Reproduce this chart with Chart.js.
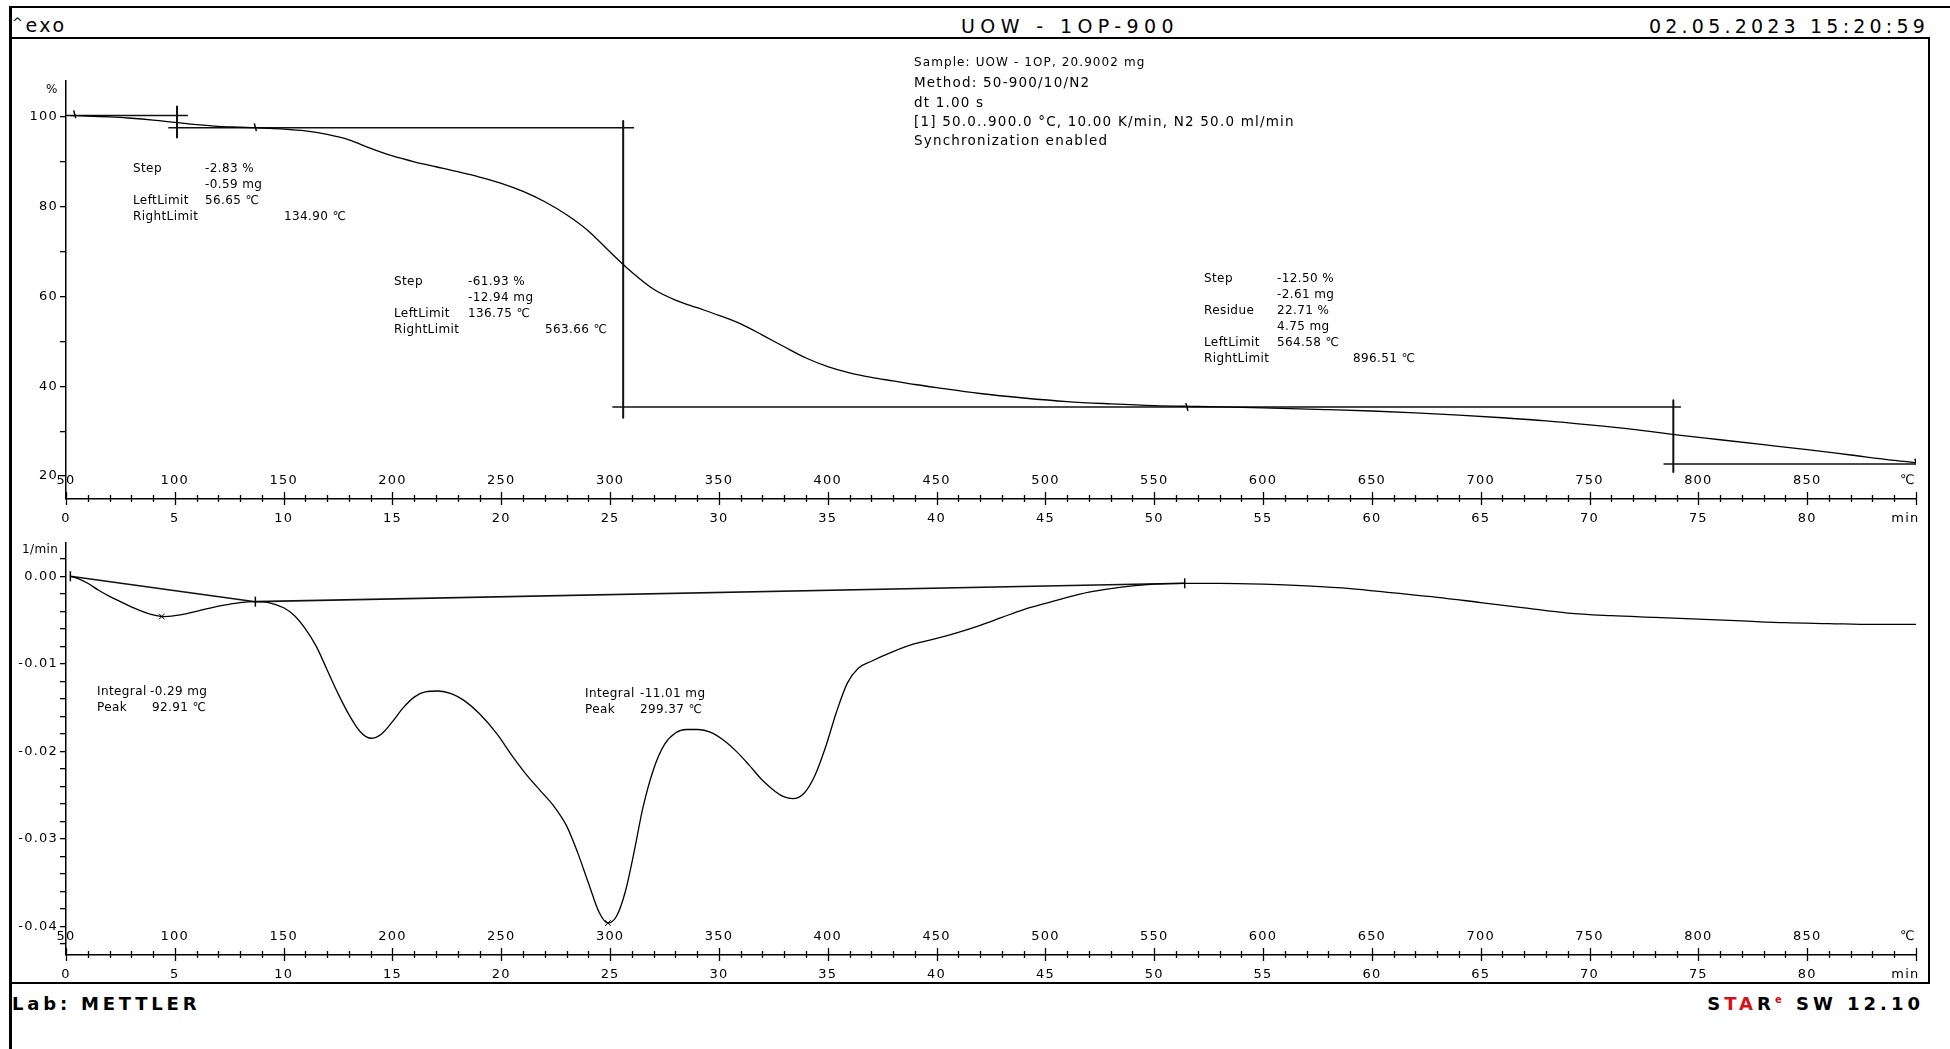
<!DOCTYPE html>
<html>
<head>
<meta charset="utf-8">
<script src="https://cdn.jsdelivr.net/npm/chart.js@4.4.0/dist/chart.umd.min.js"></script>
<style>
  body { margin: 0; width: 1950px; height: 1049px; overflow: hidden; position: relative; background: #fff;
         font-family: 'DejaVu Sans', sans-serif; color: #000; }
  .t { position: absolute; white-space: pre; transform: translateY(-50%); line-height: 1; }
  .ann { font-size: 12px; letter-spacing: 0.4px; }
  .info { font-size: 13.5px; letter-spacing: 1.2px; }
  .head { font-size: 19px; letter-spacing: 5.4px; }
  canvas { position: absolute; left: 0; }
  #frame { position: absolute; left: 9px; top: 37px; width: 1916px; height: 943px; border: 2px solid #000; border-left-width: 3px; }
  #outerTop { position: absolute; left: 9px; top: 6px; width: 1941px; height: 2px; background: #000; }
  #outerLeft { position: absolute; left: 9px; top: 6px; width: 3px; height: 1043px; background: #000; }
</style>
</head>
<body>
<div id="outerTop"></div>
<div id="outerLeft"></div>
<div id="frame"></div>
<canvas id="tga" width="1950" height="500" style="top:37px"></canvas>
<canvas id="dtg" width="1950" height="455" style="top:532px"></canvas>
<script>
// TGA: mass (%) against time (min)
const tgaTime = [0.2, 1, 2, 3, 4, 5, 6, 7, 8, 9, 10, 11, 12, 13, 14, 15, 16, 17, 18, 19, 20,
  21, 22, 23, 24, 25, 26, 27, 28, 29, 30, 31, 32, 33, 34, 35, 36, 37, 38, 39, 40,
  42, 44, 46, 48, 50, 52, 55, 58, 60, 62, 64, 66, 68, 70, 72, 74, 76, 78, 80, 82, 84, 85];
const tgaMass = [100.3, 100.2, 100.0, 99.7, 99.3, 98.8, 98.3, 97.9, 97.7, 97.5, 97.3,
  96.9, 96.1, 94.9, 93.0, 91.3, 90.0, 88.9, 87.8, 86.6, 85.2,
  83.4, 81.1, 78.2, 74.6, 69.9, 65.4, 61.6, 59.2, 57.5, 55.8,
  53.9, 51.4, 48.8, 46.3, 44.4, 43.0, 42.0, 41.2, 40.4, 39.7,
  38.4, 37.4, 36.6, 36.1, 35.7, 35.5, 35.2, 34.8, 34.5, 34.1, 33.6, 33.0, 32.3, 31.4,
  30.4, 29.2, 28.1, 27.0, 25.9, 24.7, 23.5, 23.0];

// DTG: 1/min against time (min)
const dtgTime = [0.2, 0.5, 1, 1.5, 2, 2.5, 3, 3.5, 4, 4.5, 5, 5.5, 6, 6.5, 7, 7.5, 8, 8.7, 9.3,
  10, 10.5, 11, 11.5, 12, 12.5, 13, 13.5, 14, 14.5, 15, 15.5, 16, 16.5, 17.1, 17.7, 18.3,
  19, 19.8, 20.5, 21.2, 21.8, 22.4, 23, 23.5, 24, 24.5, 24.9, 25.3, 25.7, 26.1, 26.5, 27,
  27.5, 28, 28.5, 29.05, 29.6, 30.2, 30.8, 31.4, 32, 32.6, 33, 33.4, 33.9, 34.4, 34.9, 35.4,
  35.9, 36.4, 37, 38, 39, 40, 41, 42, 43, 44, 45, 46, 47, 48, 49, 50, 51.4, 53, 55, 57,
  59, 61, 63, 65, 67, 69, 71, 73, 75, 77, 79, 81, 83, 85];
const dtgRate = [0.0000, -0.0002, -0.0008, -0.0016, -0.0023, -0.0029, -0.0035, -0.0040,
  -0.0044, -0.0046, -0.0045, -0.0043, -0.0040, -0.0037, -0.0034, -0.0032, -0.0030, -0.0029,
  -0.0030, -0.0036, -0.0045, -0.0060, -0.0080, -0.0107, -0.0134, -0.0158, -0.0177, -0.0185,
  -0.0180, -0.0166, -0.0150, -0.0138, -0.0132, -0.0131, -0.0134, -0.0142, -0.0157, -0.0180,
  -0.0205, -0.0228, -0.0245, -0.0262, -0.0285, -0.0315, -0.0350, -0.0384, -0.0396, -0.0388,
  -0.0360, -0.0315, -0.0265, -0.0220, -0.0192, -0.0179, -0.0175, -0.0175, -0.0178, -0.0187,
  -0.0200, -0.0216, -0.0233, -0.0246, -0.0252, -0.0254, -0.0248, -0.0228, -0.0195, -0.0155,
  -0.0122, -0.0105, -0.0097, -0.0086, -0.0077, -0.0071, -0.0064, -0.0056, -0.0047, -0.0038,
  -0.0031, -0.0024, -0.0018, -0.0014, -0.0011, -0.0009, -0.0008, -0.0008, -0.0009, -0.0011,
  -0.0014, -0.0019, -0.0024, -0.0030, -0.0036, -0.0042, -0.0045, -0.0047, -0.0049, -0.0051,
  -0.0053, -0.0054, -0.0055, -0.0055];

// step evaluation lines (top plot)
const stepLevels = [100.3, 97.6, 35.4, 22.7];
const stepLevelFrom = [0.0, 4.7, 25.1, 73.4];
const stepLevelTo = [5.6, 26.1, 74.2, 85];
const stepTimes = [5.1, 25.6, 73.85];
const stepTop = [102.3, 99.1, 36.9];
const stepBottom = [95.4, 33.0, 20.9];
const tgaLimitTime = [0.4, 8.7, 51.5, 85];
const tgaLimitMass = [100.6, 97.7, 35.4, 23.0];

// integration baselines, peaks and limits (bottom plot)
const baseTime = [0.2, 8.7, 51.4];
const baseRate = [0.0000, -0.0029, -0.0008];
const peakTime = [4.4, 24.9];
const peakRate = [-0.0046, -0.0396];

// axes
const timeTickLabels = ['0', '5', '10', '15', '20', '25', '30', '35', '40', '45', '50', '55', '60', '65', '70', '75', '80', 'min    '];
const tempTickLabels = ['50', '100', '150', '200', '250', '300', '350', '400', '450', '500', '550', '600', '650', '700', '750', '800', '850', '℃   '];
const tgaTickValues = [20, 30, 40, 50, 60, 70, 80, 90, 100];
const tgaTickLabels = ['20', '', '40', '', '60', '', '80', '', '100'];
const dtgTickValues = [0.002, 0, -0.002, -0.004, -0.006, -0.008, -0.01, -0.012, -0.014, -0.016, -0.018, -0.02,
  -0.022, -0.024, -0.026, -0.028, -0.03, -0.032, -0.034, -0.036, -0.038, -0.04, -0.042];
const dtgTickLabels = ['', '0.00', '', '', '', '', '-0.01', '', '', '', '', '-0.02',
  '', '', '', '', '-0.03', '', '', '', '', '-0.04', ''];

const FONT = "'DejaVu Sans', sans-serif";
const pts = (xs, ys) => xs.map((x, i) => ({ x: x, y: ys[i] }));

function seg(x1, y1, x2, y2) {
  return {
    data: [{ x: x1, y: y1 }, { x: x2, y: y2 }],
    borderColor: '#111', borderWidth: 1.4, pointRadius: 0, tension: 0
  };
}

// tick marks that cross the time axis, longer every 5 min
const crossTicks = {
  id: 'crossTicks',
  beforeDraw(chart) { chart.ctx.letterSpacing = '1.2px'; },
  afterDraw(chart) {
    const sc = chart.scales.x, ctx = chart.ctx, y0 = Math.round(sc.top);
    ctx.letterSpacing = '0px';
    ctx.save();
    ctx.strokeStyle = '#000';
    ctx.lineWidth = 1.3;
    sc.ticks.forEach(t => {
      const px = Math.round(sc.getPixelForValue(t.value)) + 0.5;
      const big = t.value % 5 === 0;
      ctx.beginPath();
      ctx.moveTo(px, y0 - (big ? 7 : 4));
      ctx.lineTo(px, y0 + (big ? 6 : 3));
      ctx.stroke();
    });
    ctx.restore();
  }
};

function minuteTicks(axis) {
  const list = [];
  for (let m = 0; m <= 85; m++) list.push({ value: m });
  axis.ticks = list;
}

function fiveTicks(axis) {
  const list = [];
  for (let i = 0; i < timeTickLabels.length; i++) list.push({ value: i * 5 });
  axis.ticks = list;
}

function xScales() {
  return {
    xc: {
      type: 'linear', position: 'bottom', min: 0, max: 85, weight: 0,
      afterBuildTicks: fiveTicks,
      afterFit: s => { s.height = 0; },
      grid: { display: false }, border: { display: false },
      ticks: {
        mirror: true, padding: 11, autoSkip: false, maxRotation: 0, color: '#000',
        font: { family: FONT, size: 13 },
        callback: (v) => tempTickLabels[Math.round(v / 5)]
      }
    },
    x: {
      type: 'linear', position: 'bottom', min: 0, max: 85, weight: 1,
      afterBuildTicks: minuteTicks,
      afterFit: s => { s.height = 30; },
      grid: { display: false }, border: { display: true, color: '#000', width: 1.5 },
      ticks: {
        padding: 4, autoSkip: false, maxRotation: 0, color: '#000',
        font: { family: FONT, size: 13 },
        callback: (v) => v % 5 === 0 ? timeTickLabels[v / 5] : ''
      }
    }
  };
}

function yScale(min, max, values, labels) {
  return {
    type: 'linear', position: 'left', min: min, max: max,
    afterBuildTicks: axis => { axis.ticks = values.map(v => ({ value: v })); },
    afterFit: s => { s.width = 60; },
    grid: { drawOnChartArea: false, tickLength: 6, color: '#000', lineWidth: 1.3 },
    border: { display: true, color: '#000', width: 1.5 },
    ticks: {
      padding: 2, autoSkip: false, color: '#000',
      font: { family: FONT, size: 13 },
      callback: (v) => {
        const i = values.findIndex(w => Math.abs(w - v) < 1e-9);
        return i < 0 ? '' : labels[i];
      }
    }
  };
}

const baseOpts = {
  responsive: false, animation: false, devicePixelRatio: 1,
  plugins: { legend: { display: false }, tooltip: { enabled: false } },
  elements: { line: { borderJoinStyle: 'round' } }
};

// top: TGA
const tgaSets = [
  { data: pts(tgaTime, tgaMass), borderColor: '#000', borderWidth: 1.3, pointRadius: 0,
    cubicInterpolationMode: 'monotone' },
  { data: pts(tgaLimitTime, tgaLimitMass), showLine: false, pointStyle: 'line', rotation: 75,
    pointRadius: 4, borderColor: '#000', borderWidth: 1.5 }
];
stepLevels.forEach((lv, i) => tgaSets.push(seg(stepLevelFrom[i], lv, stepLevelTo[i], lv)));
stepTimes.forEach((t, i) => {
  const s = seg(t, stepTop[i], t, stepBottom[i]);
  s.borderWidth = 2;
  tgaSets.push(s);
});

new Chart(document.getElementById('tga'), {
  type: 'line',
  data: { datasets: tgaSets },
  options: Object.assign({}, baseOpts, {
    layout: { padding: { left: 6, right: 34, top: 44, bottom: 8 } },
    scales: Object.assign(xScales(), { y: yScale(14.9, 108, tgaTickValues, tgaTickLabels) })
  }),
  plugins: [crossTicks]
});

// bottom: DTG
const dtgSets = [
  { data: pts(dtgTime, dtgRate), borderColor: '#000', borderWidth: 1.3, pointRadius: 0,
    cubicInterpolationMode: 'monotone' },
  Object.assign(seg(baseTime[0], baseRate[0], baseTime[1], baseRate[1]), { borderWidth: 1.6 }),
  Object.assign(seg(baseTime[1], baseRate[1], baseTime[2], baseRate[2]), { borderWidth: 1.6 }),
  { data: pts(peakTime, peakRate), showLine: false, pointStyle: 'crossRot', pointRadius: 4,
    borderColor: '#000', borderWidth: 1 },
  { data: pts(baseTime, baseRate), showLine: false, pointStyle: 'line', rotation: 90,
    pointRadius: 5, borderColor: '#000', borderWidth: 1.5, borderDash: [3, 2] }
];

new Chart(document.getElementById('dtg'), {
  type: 'line',
  data: { datasets: dtgSets },
  options: Object.assign({}, baseOpts, {
    layout: { padding: { left: 6, right: 34, top: 11, bottom: 2 } },
    scales: Object.assign(xScales(), { y: yScale(-0.04325, 0.0038, dtgTickValues, dtgTickLabels) })
  }),
  plugins: [crossTicks]
});

// texts
function put(x, y, txt, cls, extra) {
  const d = document.createElement('div');
  d.className = 't ' + (cls || 'ann');
  d.style.left = x + 'px';
  d.style.top = y + 'px';
  if (extra) Object.assign(d.style, extra);
  d.innerHTML = txt;
  document.body.appendChild(d);
  return d;
}

put(12, 25, '<span style="font-size:13px;vertical-align:5px">^</span>exo', 'head', { letterSpacing: '2.5px', fontSize: '19px' });
put(961, 26, 'UOW - 1OP-900', 'head');
put(1929, 26, '02.05.2023 15:20:59', 'head', { transform: 'translate(-100%,-50%)', letterSpacing: '4.2px' });
put(12, 1004, 'Lab: METTLER', 'head', { fontWeight: 'bold', fontSize: '18px', letterSpacing: '3.8px' });
put(1924, 1004, 'S<span style="color:#d3131a">TA</span>R<sup style="color:#d3131a;font-size:10px">e</sup> SW 12.10', 'head',
  { fontWeight: 'bold', fontSize: '18px', letterSpacing: '4px', transform: 'translate(-100%,-50%)' });

put(914, 62, 'Sample: UOW - 1OP, 20.9002 mg', 'info', { fontSize: '12px', letterSpacing: '1.1px' });
put(914, 83, 'Method: 50-900/10/N2', 'info');
put(914, 103, 'dt 1.00 s', 'info');
put(914, 122, '[1] 50.0..900.0 °C, 10.00 K/min, N2 50.0 ml/min', 'info');
put(914, 141, 'Synchronization enabled', 'info');

put(46, 89, '%', 'ann');
put(22, 549, '1/min', 'ann');

// step 1
put(133, 168, 'Step'); put(205, 168, '-2.83 %');
put(205, 184, '-0.59 mg');
put(133, 200, 'LeftLimit'); put(205, 200, '56.65 ℃');
put(133, 216, 'RightLimit'); put(284, 216, '134.90 ℃');
// step 2
put(394, 281, 'Step'); put(468, 281, '-61.93 %');
put(468, 297, '-12.94 mg');
put(394, 313, 'LeftLimit'); put(468, 313, '136.75 ℃');
put(394, 329, 'RightLimit'); put(545, 329, '563.66 ℃');
// step 3
put(1204, 278, 'Step'); put(1277, 278, '-12.50 %');
put(1277, 294, '-2.61 mg');
put(1204, 310, 'Residue'); put(1277, 310, '22.71 %');
put(1277, 326, '4.75 mg');
put(1204, 342, 'LeftLimit'); put(1277, 342, '564.58 ℃');
put(1204, 358, 'RightLimit'); put(1353, 358, '896.51 ℃');
// peaks
put(97, 691, 'Integral'); put(150, 691, '-0.29 mg');
put(97, 707, 'Peak'); put(152, 707, '92.91 ℃');
put(585, 693, 'Integral'); put(640, 693, '-11.01 mg');
put(585, 709, 'Peak'); put(640, 709, '299.37 ℃');
</script>
</body>
</html>
